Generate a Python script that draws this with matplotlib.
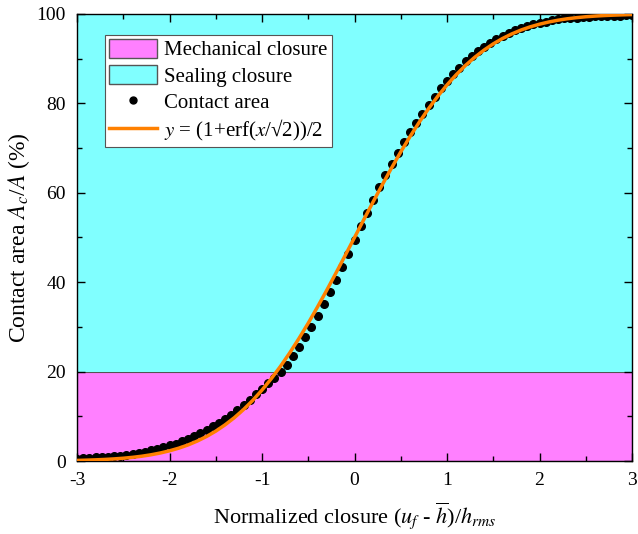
import matplotlib
matplotlib.use("Agg")
import matplotlib.pyplot as plt
from matplotlib.patches import Patch
from matplotlib.lines import Line2D
from matplotlib.ticker import MultipleLocator

plt.rcParams['font.family'] = ['Liberation Serif', 'DejaVu Serif']
plt.rcParams['mathtext.fontset'] = 'stix'
plt.rcParams['axes.unicode_minus'] = False

# contact area points (x step 1/15 from -3 to 3)
x_dots = [round(-3 + k / 15, 4) for k in range(91)]
area_dots = [0.5, 0.6, 0.7, 0.8, 0.8, 0.9, 1.1, 1.2, 1.4, 1.6,
             1.9, 2.1, 2.4, 2.7, 3.1, 3.5, 3.9, 4.4, 5.0, 5.6,
             6.2, 7.0, 7.8, 8.6, 9.5, 10.4, 11.4, 12.5, 13.7, 14.9,
             16.2, 17.4, 18.5, 19.9, 21.5, 23.4, 25.4, 27.7, 30.0, 32.5,
             35.1, 37.8, 40.6, 43.5, 46.4, 49.4, 52.5, 55.4, 58.4, 61.2,
             63.9, 66.5, 69.0, 71.3, 73.6, 75.7, 77.7, 79.6, 81.5, 83.4,
             85.0, 86.6, 88.0, 89.4, 90.6, 91.7, 92.7, 93.6, 94.4, 95.1,
             95.8, 96.4, 96.9, 97.3, 97.7, 98.0, 98.3, 98.6, 98.8, 99.0,
             99.1, 99.2, 99.3, 99.4, 99.5, 99.5, 99.6, 99.6, 99.6, 99.7,
             99.7]

# erf reference curve (x step 0.1)
x_curve = [round(-3 + k / 10, 2) for k in range(61)]
erf_curve = [0.13, 0.19, 0.26, 0.35, 0.47, 0.62, 0.82, 1.07, 1.39, 1.79,
             2.28, 2.87, 3.59, 4.46, 5.48, 6.68, 8.08, 9.68, 11.51, 13.57,
             15.87, 18.41, 21.19, 24.20, 27.43, 30.85, 34.46, 38.21, 42.07, 46.02,
             50.00, 53.98, 57.93, 61.79, 65.54, 69.15, 72.57, 75.80, 78.81, 81.59,
             84.13, 86.43, 88.49, 90.32, 91.92, 93.32, 94.52, 95.54, 96.41, 97.13,
             97.72, 98.21, 98.61, 98.93, 99.18, 99.38, 99.53, 99.65, 99.74, 99.81,
             99.87]

mech_limit = 20
magenta = '#ff80ff'
cyan = '#80ffff'
orange = '#ff8000'

fig = plt.figure(figsize=(6.38, 5.34), dpi=100)
ax = fig.add_axes([0.1207, 0.1367, 0.8699, 0.8371])

ax.axhspan(0, mech_limit, facecolor=magenta, edgecolor='#555555', linewidth=0.8, zorder=0)
ax.axhspan(mech_limit, 100, facecolor=cyan, edgecolor='none', zorder=0)

ax.plot(x_dots, area_dots, 'o', color='black', markersize=5.5, zorder=2)
ax.plot(x_curve, erf_curve, '-', color=orange, linewidth=2.5, zorder=3)

ax.set_xlim(-3, 3)
ax.set_ylim(0, 100)
ax.xaxis.set_major_locator(MultipleLocator(1))
ax.xaxis.set_minor_locator(MultipleLocator(0.5))
ax.yaxis.set_major_locator(MultipleLocator(20))
ax.yaxis.set_minor_locator(MultipleLocator(10))
ax.tick_params(which='both', direction='in', top=True, right=True, labelsize=14)
ax.tick_params(which='major', length=6, width=1, pad=8)
ax.tick_params(which='minor', length=3.5, width=1)
for s in ax.spines.values():
    s.set_linewidth(1)

ax.set_xlabel(r'Normalized closure ($u_f$ - $\overline{h}$)/$h_{rms}$', fontsize=16, labelpad=8)
ax.set_ylabel(r'Contact area $A_c$/$A$ (%)', fontsize=17, labelpad=3)

handles = [Patch(facecolor=magenta, edgecolor='#555555'),
           Patch(facecolor=cyan, edgecolor='#555555'),
           Line2D([], [], marker='o', color='black', linestyle='none', markersize=5),
           Line2D([], [], color=orange, linewidth=2.5)]
labels = ['Mechanical closure', 'Sealing closure', 'Contact area',
          r'$y$ = (1+erf($x$/√2))/2']
leg = ax.legend(handles, labels, loc='upper left', bbox_to_anchor=(0.05, 0.954),
                fontsize=15, fancybox=False, framealpha=1, edgecolor='#555555',
                borderpad=0.2, labelspacing=0.22, handlelength=2.3, handleheight=1.05,
                handletextpad=0.35, borderaxespad=0.0)
leg.get_frame().set_linewidth(0.8)

fig.savefig('out.png', dpi=100)
